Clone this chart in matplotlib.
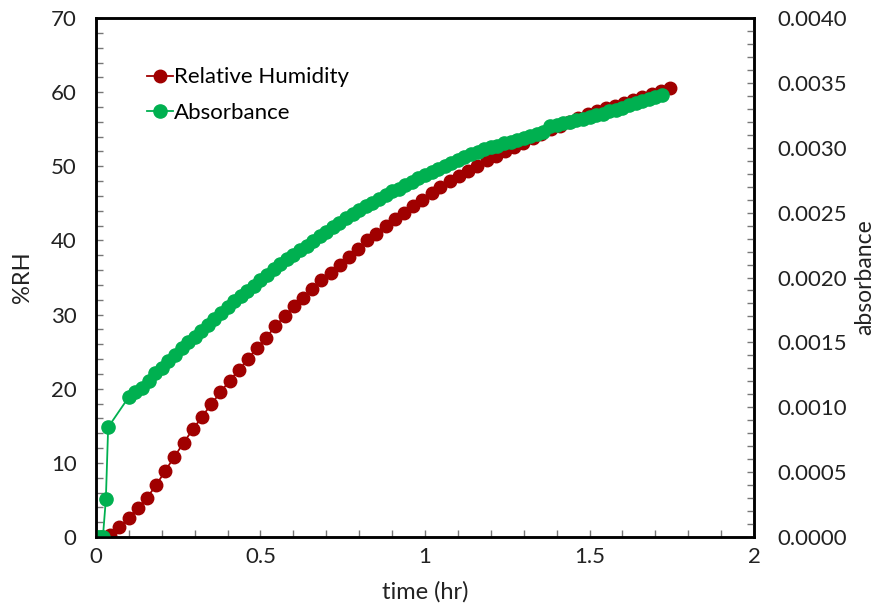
import matplotlib
matplotlib.use("Agg")
import matplotlib.pyplot as plt
from matplotlib.ticker import MultipleLocator, FormatStrFormatter

plt.rcParams['font.family'] = ['Lato', 'DejaVu Sans']

# relative humidity (%RH) vs time (hr)
rh_time = [0.015, 0.043, 0.071, 0.099, 0.127, 0.155, 0.183, 0.210, 0.238, 0.266,
           0.294, 0.322, 0.350, 0.378, 0.406, 0.434, 0.462, 0.489, 0.517, 0.545,
           0.573, 0.601, 0.629, 0.657, 0.685, 0.713, 0.741, 0.768, 0.796, 0.824,
           0.852, 0.880, 0.908, 0.936, 0.964, 0.992, 1.020, 1.047, 1.075, 1.103,
           1.131, 1.159, 1.187, 1.215, 1.243, 1.271, 1.299, 1.327, 1.354, 1.382,
           1.410, 1.438, 1.466, 1.494, 1.522, 1.550, 1.578, 1.606, 1.633, 1.661,
           1.689, 1.717, 1.745]
rh_value = [0.0, 0.3, 1.3, 2.6, 3.9, 5.3, 7.0, 8.9, 10.8, 12.7,
            14.5, 16.2, 17.9, 19.5, 21.1, 22.5, 24.0, 25.5, 26.9, 28.4,
            29.8, 31.1, 32.3, 33.5, 34.7, 35.6, 36.7, 37.8, 38.9, 40.0,
            40.9, 41.9, 42.9, 43.7, 44.6, 45.5, 46.4, 47.2, 48.0, 48.7,
            49.4, 50.1, 50.8, 51.4, 52.0, 52.6, 53.2, 53.8, 54.4, 55.0,
            55.5, 56.0, 56.5, 57.0, 57.4, 57.8, 58.2, 58.6, 59.0, 59.4,
            59.8, 60.2, 60.6]

# absorbance vs time (hr)
abs_time = [0.000, 0.007, 0.014, 0.021, 0.030, 0.037,
            0.10, 0.12, 0.14, 0.16, 0.18, 0.20, 0.22, 0.24, 0.26, 0.28,
            0.30, 0.32, 0.34, 0.36, 0.38, 0.40, 0.42, 0.44, 0.46, 0.48,
            0.50, 0.52, 0.54, 0.56, 0.58, 0.60, 0.62, 0.64, 0.66, 0.68,
            0.70, 0.72, 0.74, 0.76, 0.78, 0.80, 0.82, 0.84, 0.86, 0.88,
            0.90, 0.92, 0.94, 0.96, 0.98, 1.00, 1.02, 1.04, 1.06, 1.08,
            1.10, 1.12, 1.14, 1.16, 1.18, 1.20, 1.22, 1.24, 1.26, 1.28,
            1.30, 1.32, 1.34, 1.36, 1.38, 1.40, 1.42, 1.44, 1.46, 1.48,
            1.50, 1.52, 1.54, 1.56, 1.58, 1.60, 1.62, 1.64, 1.66, 1.68,
            1.70, 1.72]
abs_value = [0.0, 0.0, 0.0, 0.0, 0.000291, 0.000846,
             0.001080, 0.001114, 0.001149, 0.001200, 0.001263, 0.001303, 0.001360, 0.001406, 0.001457, 0.001503,
             0.001543, 0.001589, 0.001634, 0.001680, 0.001726, 0.001771, 0.001817, 0.001857, 0.001897, 0.001937,
             0.001983, 0.002023, 0.002063, 0.002103, 0.002143, 0.002177, 0.002211, 0.002246, 0.002280, 0.002320,
             0.002354, 0.002389, 0.002423, 0.002457, 0.002491, 0.002520, 0.002549, 0.002577, 0.002606, 0.002634,
             0.002663, 0.002686, 0.002714, 0.002737, 0.002766, 0.002789, 0.002811, 0.002834, 0.002857, 0.002886,
             0.002909, 0.002926, 0.002949, 0.002966, 0.002989, 0.003006, 0.003017, 0.003034, 0.003046, 0.003063,
             0.003074, 0.003091, 0.003103, 0.003120, 0.003166, 0.003177, 0.003189, 0.003200, 0.003211, 0.003223,
             0.003234, 0.003251, 0.003263, 0.003280, 0.003291, 0.003309, 0.003326, 0.003343, 0.003360, 0.003377,
             0.003389, 0.003406]

red = '#A00000'
green = '#00B050'

fig = plt.figure(figsize=(8.79, 6.05), dpi=100)
ax = fig.add_axes([0.1092, 0.1124, 0.7486, 0.8578])
ax2 = ax.twinx()

l1, = ax.plot(rh_time, rh_value, '-o', color=red, markersize=9, linewidth=1.3, label='Relative Humidity')
l2, = ax2.plot(abs_time, abs_value, '-o', color=green, markersize=9.5, linewidth=1.3, label='Absorbance')

ax.set_xlim(0, 2)
ax.set_ylim(0, 70)
ax2.set_ylim(0, 0.004)

ax.xaxis.set_major_locator(MultipleLocator(0.5))
ax.xaxis.set_minor_locator(MultipleLocator(0.1))
ax.yaxis.set_major_locator(MultipleLocator(10))
ax.yaxis.set_minor_locator(MultipleLocator(2))
ax2.yaxis.set_major_locator(MultipleLocator(0.0005))
ax2.yaxis.set_minor_locator(MultipleLocator(0.0001))
ax2.yaxis.set_major_formatter(FormatStrFormatter('%.4f'))
ax.xaxis.set_major_formatter(matplotlib.ticker.FuncFormatter(lambda v, p: '%g' % v))

for a in (ax, ax2):
    a.tick_params(which='both', direction='in', length=5, width=1, color='#777777', labelsize=16, labelcolor='#222222')
    for s in a.spines.values():
        s.set_linewidth(1.8)
        s.set_color('black')
ax.tick_params(axis='x', pad=7)
ax.tick_params(axis='y', pad=14)
ax2.tick_params(axis='y', pad=17)

ax.set_xlabel('time (hr)', fontsize=17, color='#222222')
ax.set_ylabel('%RH', fontsize=17, color='#222222')
ax2.set_ylabel('absorbance', fontsize=16.5, color='#222222')
ax.xaxis.set_label_coords(0.5, -0.084)
ax.yaxis.set_label_coords(-0.095, 0.5)
ax2.yaxis.set_label_coords(1.152, 0.5)

ax2.legend(handles=[l1, l2], loc='upper left', bbox_to_anchor=(0.064, 0.922), frameon=False,
           fontsize=16, handlelength=1.15, handletextpad=0.05, labelspacing=0.68, borderaxespad=0)

fig.savefig('out.png', dpi=100)
